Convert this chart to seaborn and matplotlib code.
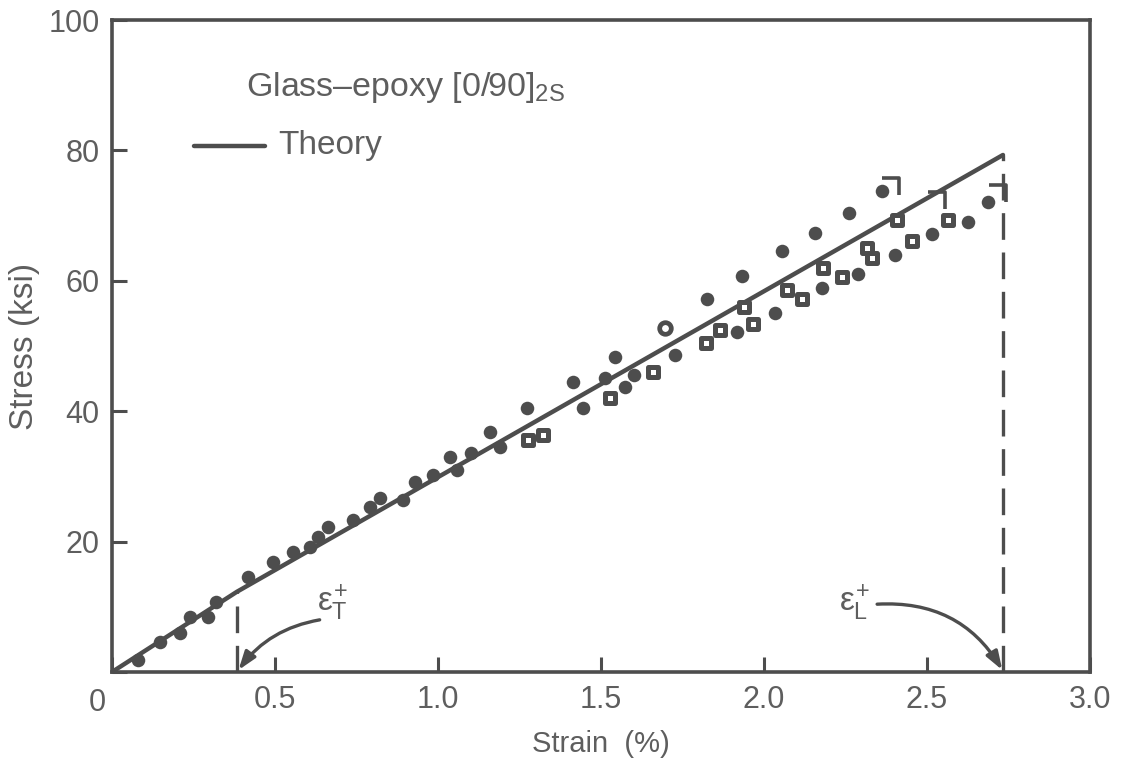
import matplotlib
matplotlib.use("Agg")
import matplotlib.pyplot as plt
from matplotlib.path import Path
import seaborn as sns
import pandas as pd

# ---- data ----
theory_strain = [0.0, 0.383, 2.733]
theory_stress = [0.0, 12.3, 79.3]

circle_strain = [0.08, 0.147, 0.209, 0.24, 0.295, 0.32, 0.418, 0.494, 0.556, 0.607,
                 0.632, 0.663, 0.74, 0.79, 0.822, 0.893, 0.93, 0.985, 1.037, 1.058,
                 1.1, 1.16, 1.19, 1.273, 1.414, 1.445, 1.512, 1.543, 1.574, 1.6,
                 1.727, 1.825, 1.917, 1.933, 2.034, 2.055, 2.156, 2.178, 2.261, 2.288,
                 2.362, 2.402, 2.515, 2.626, 2.687]
circle_stress = [1.8, 4.6, 6.0, 8.4, 8.4, 10.7, 14.6, 16.9, 18.4, 19.2,
                 20.7, 22.2, 23.3, 25.3, 26.7, 26.4, 29.1, 30.2, 33.0, 31.0,
                 33.6, 36.8, 34.5, 40.5, 44.5, 40.5, 45.1, 48.3, 43.7, 45.5,
                 48.6, 57.2, 52.1, 60.7, 55.0, 64.6, 67.3, 58.9, 70.4, 61.0,
                 73.8, 64.0, 67.2, 69.0, 72.1]

square_strain = [1.276, 1.322, 1.527, 1.66, 1.822, 1.865, 1.94, 1.966, 2.07, 2.117,
                 2.18, 2.239, 2.316, 2.331, 2.408, 2.454, 2.564]
square_stress = [35.6, 36.3, 42.0, 46.0, 50.5, 52.5, 56.0, 53.4, 58.6, 57.2,
                 62.0, 60.6, 65.0, 63.5, 69.3, 66.1, 69.3]

open_circle_strain = [1.696]
open_circle_stress = [52.8]

failure_strain = [2.387, 2.53, 2.715]
failure_stress = [74.4, 72.3, 73.4]

eps_T = 0.383
eps_L = 2.733

x_ticks = [0.0, 0.5, 1.0, 1.5, 2.0, 2.5, 3.0]
x_ticklabels = ["", "0.5", "1.0", "1.5", "2.0", "2.5", "3.0"]
y_ticks = [0, 20, 40, 60, 80, 100]
y_ticklabels = ["", "20", "40", "60", "80", "100"]

INK = "#4d4d4d"
TXT = "#5e5e5e"

sns.set_style("ticks")
plt.rcParams["font.family"] = ["Liberation Sans", "DejaVu Sans"]
plt.rcParams["mathtext.fontset"] = "custom"
plt.rcParams["mathtext.rm"] = "Liberation Sans"
plt.rcParams["mathtext.it"] = "Liberation Sans"

fig = plt.figure(figsize=(11.24, 7.66), dpi=100)
ax = fig.add_axes([112 / 1124, 1 - 672 / 766, (1090 - 112) / 1124, (672 - 20) / 766])

theory_df = pd.DataFrame({"strain": theory_strain, "stress": theory_stress})
sns.lineplot(data=theory_df, x="strain", y="stress", color=INK, lw=3.2, ax=ax,
             sort=False, solid_joinstyle="miter")

# dashed strain-limit lines
for e in (eps_T, eps_L):
    top = theory_stress[1] if e == eps_T else theory_stress[2]
    ax.vlines(e, 0, top, colors=INK, linestyles=(0, (8, 3.8)), lw=2.4)

circ_df = pd.DataFrame({"strain": circle_strain, "stress": circle_stress})
sns.scatterplot(data=circ_df, x="strain", y="stress", marker="o", s=95,
                color=INK, edgecolor=INK, linewidth=0, ax=ax, zorder=3)

sq_df = pd.DataFrame({"strain": square_strain, "stress": square_stress})
sns.scatterplot(data=sq_df, x="strain", y="stress", marker="s", s=52,
                facecolor="white", edgecolor=INK, linewidth=3.6, ax=ax, zorder=3)

oc_df = pd.DataFrame({"strain": open_circle_strain, "stress": open_circle_stress})
sns.scatterplot(data=oc_df, x="strain", y="stress", marker="o", s=70,
                facecolor="white", edgecolor=INK, linewidth=3.4, ax=ax, zorder=3)

bracket = Path([(-1, 1), (1, 1), (1, -1)], [Path.MOVETO, Path.LINETO, Path.LINETO])
fail_df = pd.DataFrame({"strain": failure_strain, "stress": failure_stress})
sns.scatterplot(data=fail_df, x="strain", y="stress", marker=bracket, s=150,
                facecolor="none", edgecolor=INK, linewidth=2.6, ax=ax, zorder=3)

ax.set_xlim(0, 3.0)
ax.set_ylim(0, 100)
ax.set_xticks(x_ticks)
ax.set_xticklabels(x_ticklabels)
ax.set_yticks(y_ticks)
ax.set_yticklabels(y_ticklabels)
ax.tick_params(direction="in", length=11, width=2.2, color=INK, labelcolor=TXT,
               labelsize=22, pad=9)
for sp in ax.spines.values():
    sp.set_visible(True)
    sp.set_linewidth(2.6)
    sp.set_color(INK)
ax.text(-0.045, -2.4, "0", ha="center", va="top", fontsize=22, color=TXT)

ax.set_xlabel("Strain  (%)", fontsize=21, color=TXT, labelpad=11)
ax.set_ylabel("Stress (ksi)", fontsize=24, color=TXT, labelpad=6)

# annotations
ax.text(0.41, 89.6, "Glass\u2013epoxy [0/90]$_{2S}$", fontsize=24.5, color=TXT,
        ha="left", va="center")
ax.plot([0.25, 0.47], [80.7, 80.7], color=INK, lw=3.2)
ax.text(0.51, 80.7, "Theory", fontsize=24, color=TXT, ha="left", va="center")

head = "-|>,head_length=1.1,head_width=0.38"
ax.annotate("", xy=(eps_T + 0.005, 0.3), xytext=(0.637, 8.0),
            arrowprops=dict(arrowstyle=head, color=INK, lw=2.4,
                            connectionstyle="arc3,rad=0.2", shrinkA=0, shrinkB=0))
ax.text(0.63, 10.6, r"$\epsilon_{\mathrm{T}}^{+}$", fontsize=24, color=TXT,
        ha="left", va="center")

ax.annotate("", xy=(eps_L - 0.002, 0.3), xytext=(2.347, 10.4),
            arrowprops=dict(arrowstyle=head, color=INK, lw=2.4,
                            connectionstyle="arc3,rad=-0.3", shrinkA=0, shrinkB=0))
ax.text(2.325, 10.6, r"$\epsilon_{\mathrm{L}}^{+}$", fontsize=24, color=TXT,
        ha="right", va="center")

fig.savefig("out.png", dpi=100)
